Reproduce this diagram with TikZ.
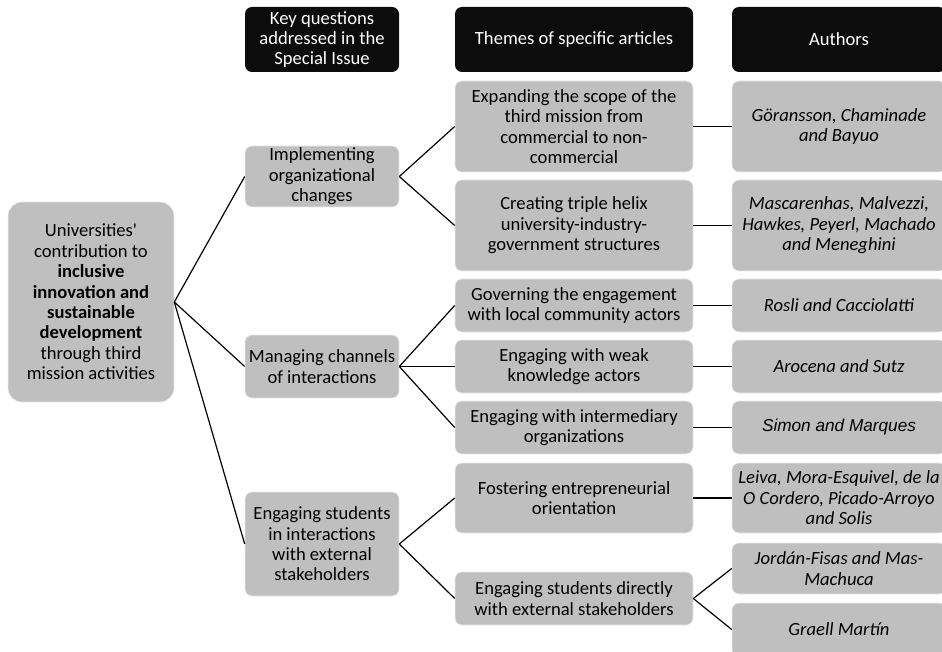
\documentclass[tikz,border=0pt]{standalone}
\usepackage{fontspec}
\setmainfont{Carlito}
\newfontfamily\arialfont{Liberation Sans}
\definecolor{boxgray}{RGB}{191,191,191}
\definecolor{hdrblack}{RGB}{12,12,12}
\begin{document}
\begin{tikzpicture}[x=1pt,y=-1pt,
  base/.style={rectangle, rounded corners=7pt, align=center, inner sep=0pt,
    font=\fontsize{18.6}{20.4}\selectfont},
  gbox/.style={base, fill=boxgray, draw=white!92!black, line width=0.6pt},
  hbox/.style={base, fill=hdrblack, text=white},
  qcol/.style={minimum width=154pt},
  tcol/.style={minimum width=238pt},
  acol/.style={minimum width=214pt, font=\fontsize{18.6}{20.4}\selectfont\itshape},
  conn/.style={draw=black, line width=1.2pt}]
\useasboundingbox (0,0) rectangle (942,652);

% headers
\node[hbox, qcol, minimum height=65pt] (hq) at (322,39.5) {Key questions\\addressed in the\\Special Issue};
\node[hbox, tcol, minimum height=65pt] (ht) at (574,39.5) {Themes of specific articles};
\node[hbox, acol, minimum height=65pt, font=\fontsize{18.6}{20.4}\selectfont] (ha) at (839,39.5) {Authors};

% root
\node[gbox, rounded corners=14pt, minimum width=166pt, minimum height=200pt] (root) at (91,302)
  {Universities\textquotesingle\\contribution to\\\textbf{inclusive}\\\textbf{innovation and}\\\textbf{sustainable}\\\textbf{development}\\through third\\mission activities};

% questions
\node[gbox, qcol, minimum height=61pt] (q1) at (322,176.5) {Implementing\\organizational\\changes};
\node[gbox, qcol, minimum height=63pt] (q2) at (322,366.5) {Managing channels\\of interactions};
\node[gbox, qcol, minimum height=104pt] (q3) at (322,544) {Engaging students\\in interactions\\with external\\stakeholders};

% themes
\node[gbox, tcol, minimum height=91pt] (t1) at (574,126.5) {Expanding the scope of the\\third mission from\\commercial to non-\\commercial};
\node[gbox, tcol, minimum height=91pt] (t2) at (574,225.5) {Creating triple helix\\university-industry-\\government structures};
\node[gbox, tcol, minimum height=53pt] (t3) at (574,305.5) {Governing the engagement\\with local community actors};
\node[gbox, tcol, minimum height=53pt] (t4) at (574,366.5) {Engaging with weak\\knowledge actors};
\node[gbox, tcol, minimum height=53pt] (t5) at (574,427.5) {Engaging with intermediary\\organizations};
\node[gbox, tcol, minimum height=70pt] (t6) at (574,498) {Fostering entrepreneurial\\orientation};
\node[gbox, tcol, minimum height=53pt] (t7) at (574,598.5) {Engaging students directly\\with external stakeholders};

% authors
\node[gbox, acol, minimum height=91pt] (a1) at (839,126.5) {Göransson, Chaminade\\and Bayuo};
\node[gbox, acol, minimum height=91pt] (a2) at (839,225.5) {Mascarenhas, Malvezzi,\\Hawkes, Peyerl, Machado\\and Meneghini};
\node[gbox, acol, minimum height=53pt] (a3) at (839,305.5) {Rosli and Cacciolatti};
\node[gbox, acol, minimum height=53pt] (a4) at (839,366.5) {Arocena and Sutz};
\node[gbox, acol, minimum height=53pt, font=\arialfont\fontsize{17.2}{20.4}\selectfont\itshape] (a5) at (839,427.5) {Simon and Marques};
\node[gbox, acol, minimum height=70pt] (a6) at (839,498) {Leiva, Mora-Esquivel, de la\\O Cordero, Picado-Arroyo\\and Solis};
\node[gbox, acol, minimum height=51pt] (a7) at (839,568.5) {Jordán-Fisas and Mas-\\Machuca};
\node[gbox, acol, minimum height=53pt] (a8) at (839,629.5) {Graell Martín};

% connectors
\draw[conn] (root.east) -- (q1.west);
\draw[conn] (root.east) -- (q2.west);
\draw[conn] (root.east) -- (q3.west);
\draw[conn] (q1.east) -- (t1.west);
\draw[conn] (q1.east) -- (t2.west);
\draw[conn] (q2.east) -- (t3.west);
\draw[conn] (q2.east) -- (t4.west);
\draw[conn] (q2.east) -- (t5.west);
\draw[conn] (q3.east) -- (t6.west);
\draw[conn] (q3.east) -- (t7.west);
\draw[conn] (t1.east) -- (a1.west);
\draw[conn] (t2.east) -- (a2.west);
\draw[conn] (t3.east) -- (a3.west);
\draw[conn] (t4.east) -- (a4.west);
\draw[conn] (t5.east) -- (a5.west);
\draw[conn] (t6.east) -- (a6.west);
\draw[conn] (t7.east) -- (a7.west);
\draw[conn] (t7.east) -- (a8.west);
\end{tikzpicture}
\end{document}
